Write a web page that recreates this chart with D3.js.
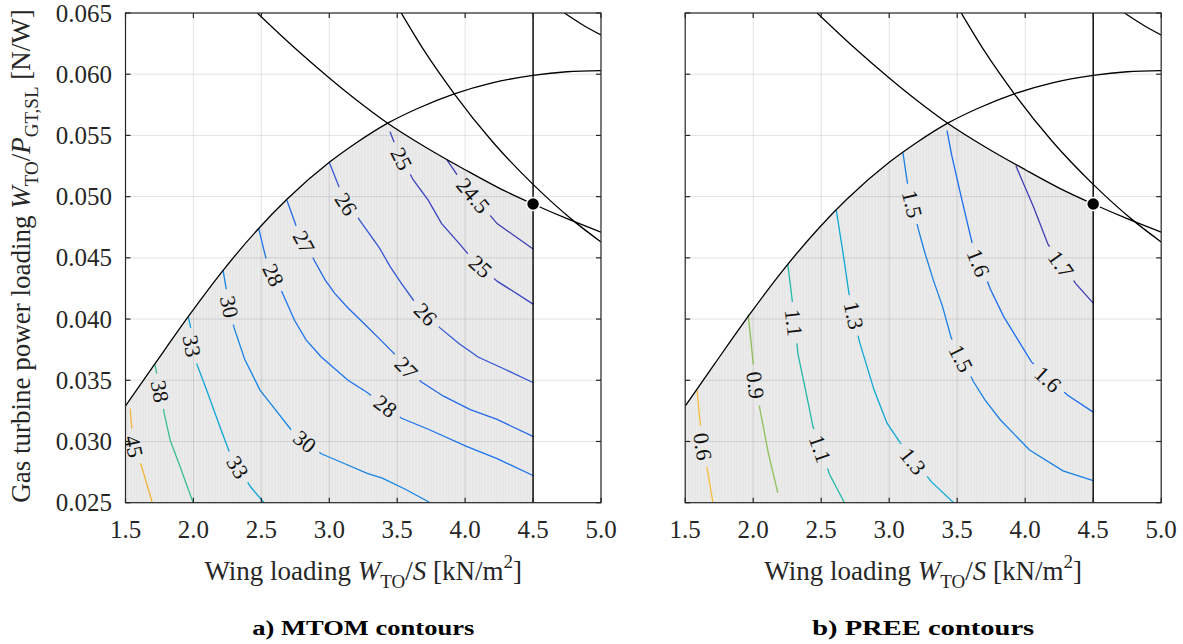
<!DOCTYPE html>
<html><head><meta charset="utf-8">
<script src="https://cdn.jsdelivr.net/npm/d3@7"></script>
<style>body{margin:0;background:#fff} svg{display:block}</style>
</head><body><svg id="c" width="1183" height="644" font-family="'Liberation Serif','Times New Roman',Times,serif"></svg>
<script>
// ---------- data ----------
const xTicks = [1.5, 2.0, 2.5, 3.0, 3.5, 4.0, 4.5, 5.0];
const xTickLabels = ["1.5","2.0","2.5","3.0","3.5","4.0","4.5","5.0"];
const yTicks = [0.025, 0.030, 0.035, 0.040, 0.045, 0.050, 0.055, 0.060, 0.065];
const yTickLabels = ["0.025","0.030","0.035","0.040","0.045","0.050","0.055","0.060","0.065"];

// constraint curves (wing loading kN/m2, power loading N/W)
const climbCurve = [[1.5,0.0329],[1.72,0.0364],[1.975,0.0404],[2.22,0.0440],[2.48,0.0474],[2.69,0.0498],[3.0,0.0528],[3.2,0.0544],[3.43,0.0560],[3.65,0.0572],[3.92,0.0584],[4.2,0.0593],[4.5,0.0599],[4.75,0.0602],[5.0,0.0603]];
const descendA = [[2.47,0.0650],[2.75,0.0621],[3.0,0.0597],[3.2,0.0579],[3.43,0.0560],[3.7,0.0541],[4.0,0.0522],[4.25,0.0507],[4.5,0.0494],[4.75,0.0482],[5.0,0.0471]];
const descendB = [[3.53,0.0650],[3.7,0.0619],[3.92,0.0584],[4.2,0.0545],[4.5,0.0510],[4.8,0.0480],[5.0,0.0463]];
const descendC = [[4.73,0.065],[4.87,0.0640],[5.0,0.0632]];
const designLimit = 4.5;
const designPoint = [4.5, 0.0494];

// MTOM contours
const mtomLevels = [24.5, 25, 26, 27, 28, 30, 33, 38, 45];
const mtom_24_5 = [[3.866,0.0530],[3.94,0.0518],[4.052,0.0502],[4.235,0.0478],[4.503,0.0457]];
const mtom_25 = [[3.447,0.0553],[3.49,0.0541],[3.616,0.0514],[3.729,0.0497],[3.827,0.0478],[3.954,0.0462],[4.038,0.0451],[4.235,0.0431],[4.503,0.0412]];
const mtom_26 = [[3.0,0.0528],[3.082,0.0505],[3.222,0.0481],[3.37,0.0458],[3.447,0.0443],[3.532,0.0429],[3.616,0.0416],[3.813,0.0393],[3.954,0.0380],[4.095,0.0369],[4.292,0.0359],[4.503,0.0348]];
const mtom_27 = [[2.688,0.0497],[2.766,0.0473],[2.899,0.0446],[2.969,0.0432],[3.04,0.0421],[3.138,0.0409],[3.25,0.0397],[3.377,0.0383],[3.476,0.0372],[3.673,0.0349],[3.841,0.0337],[4.038,0.0326],[4.235,0.0318],[4.503,0.0304]];
const mtom_28 = [[2.48,0.0474],[2.533,0.0450],[2.66,0.0420],[2.744,0.0399],[2.829,0.0383],[2.941,0.0369],[3.138,0.0350],[3.279,0.0340],[3.532,0.0319],[3.729,0.0310],[4.01,0.0296],[4.235,0.0286],[4.503,0.0272]];
const mtom_30 = [[2.218,0.0440],[2.238,0.0427],[2.299,0.0393],[2.378,0.0367],[2.49,0.0342],[2.603,0.0326],[2.716,0.0310],[2.941,0.0290],[3.11,0.0282],[3.279,0.0274],[3.39,0.0270],[3.56,0.0261],[3.743,0.0250]];
const mtom_33 = [[1.962,0.0402],[1.976,0.0395],[2.026,0.0363],[2.097,0.0342],[2.195,0.0312],[2.266,0.0291],[2.42,0.0263],[2.52,0.0250]];
const mtom_38 = [[1.717,0.0363],[1.739,0.0350],[1.787,0.0322],[1.829,0.0301],[1.90,0.0280],[1.998,0.0250]];
const mtom_45 = [[1.534,0.0327],[1.55,0.0306],[1.575,0.0293],[1.618,0.0280],[1.697,0.0250]];
const mtomLines = [mtom_24_5, mtom_25, mtom_26, mtom_27, mtom_28, mtom_30, mtom_33, mtom_38, mtom_45];
// label positions: [level, x, y]
const mtomLabels = [[45,1.562,0.0296],[38,1.755,0.0341],[33,1.99,0.0378],[33,2.327,0.0279],[30,2.266,0.0410],[30,2.82,0.0300],
  [28,2.589,0.0436],[28,3.414,0.0329],[27,2.814,0.0463],[27,3.568,0.0360],[26,3.124,0.0494],[26,3.71,0.0404],
  [25,3.532,0.0531],[25,4.114,0.0443],[24.5,4.06,0.0501]];

// PREE contours
const preeLevels = [0.6, 0.9, 1.1, 1.3, 1.5, 1.6, 1.7];
const pree_0_6 = [[1.587,0.0342],[1.609,0.0316],[1.635,0.0296],[1.663,0.0277],[1.704,0.0250]];
const pree_0_9 = [[1.963,0.0404],[1.999,0.0365],[2.02,0.0346],[2.05,0.0326],[2.112,0.0290],[2.181,0.0258]];
const pree_1_1 = [[2.254,0.0445],[2.282,0.0420],[2.33,0.0371],[2.385,0.0342],[2.44,0.0312],[2.562,0.0273],[2.671,0.0250]];
const pree_1_3 = [[2.611,0.0489],[2.666,0.0450],[2.704,0.0421],[2.78,0.0382],[2.889,0.0342],[2.984,0.0315],[3.08,0.0299],[3.311,0.0267],[3.474,0.0250]];
const pree_1_5 = [[3.101,0.0536],[3.134,0.0511],[3.215,0.0473],[3.26,0.0455],[3.324,0.0432],[3.393,0.0410],[3.455,0.0385],[3.619,0.0349],[3.704,0.0334],[3.815,0.0318],[4.032,0.0293],[4.278,0.0276],[4.5,0.0268]];
const pree_1_6 = [[3.425,0.0554],[3.461,0.0533],[3.529,0.0500],[3.61,0.0462],[3.746,0.0424],[3.842,0.0402],[4.046,0.0365],[4.31,0.0338],[4.5,0.0324]];
const pree_1_7 = [[3.932,0.0525],[4.06,0.0492],[4.168,0.0461],[4.372,0.0429],[4.5,0.0413]];
const preeLines = [pree_0_6, pree_0_9, pree_1_1, pree_1_3, pree_1_5, pree_1_6, pree_1_7];
const preeLabels = [[0.6,1.63,0.0296],[0.9,2.018,0.0346],[1.1,2.30,0.0397],[1.1,2.494,0.0294],[1.3,2.74,0.0403],[1.3,3.175,0.0284],
  [1.5,3.17,0.0494],[1.5,3.529,0.0368],[1.6,3.657,0.0446],[1.6,4.168,0.0351],[1.7,4.264,0.0445]];

// ---------- styles ----------
const mtomColors = ["#3d3db5","#3e43bf","#3457d6","#2468e8","#1c74ee","#1684e2","#0ea5d6","#3cbf8f","#f3b43a"];
const preeColors = ["#f7bd3b","#8fbe5a","#22b8a6","#0ea9d4","#1a80e4","#1b6ef0","#3e3fb5"];

const W = 1183, H = 644;
const svg = d3.select('#c');
svg.append('rect').attr('width', W).attr('height', H).attr('fill', '#fff');
const defs = svg.append('defs');
const pat = defs.append('pattern').attr('id','stripe').attr('patternUnits','userSpaceOnUse').attr('width',3).attr('height',10);
pat.append('rect').attr('width',3).attr('height',10).attr('fill','#e7e7e7');
pat.append('rect').attr('width',1).attr('height',10).attr('fill','#ececec');

const panels = [
  {x0:125.5, x1:601, lines:mtomLines, levels:mtomLevels, colors:mtomColors, labels:mtomLabels, title:"a) MTOM contours", yLabels:true},
  {x0:685.2, x1:1161.2, lines:preeLines, levels:preeLevels, colors:preeColors, labels:preeLabels, title:"b) PREE contours", yLabels:false}
];
const yTop = 13, yBot = 502.7;
const TICK_FS = 25, TITLE_FS = 27, SUB_FS = 19, LAB_FS = 22;

panels.forEach((p, i) => {
  const x = d3.scaleLinear().domain([1.5, 5.0]).range([p.x0, p.x1]);
  const y = d3.scaleLinear().domain([0.025, 0.065]).range([yBot, yTop]);
  const line = d3.line().x(d => x(d[0])).y(d => y(d[1]));
  const smooth = d3.line().x(d => x(d[0])).y(d => y(d[1])).curve(d3.curveMonotoneX);

  defs.append('clipPath').attr('id', 'clip' + i).append('rect')
    .attr('x', p.x0).attr('y', yTop).attr('width', p.x1 - p.x0).attr('height', yBot - yTop);
  // feasible region clips: below climb curve, below descending curve A
  const lo = y(0.02), hi = y(0.07);
  defs.append('clipPath').attr('id', 'below1_' + i).append('path')
    .attr('d', smooth(climbCurve) + `L${x(5.0)},${lo}L${x(1.5)},${lo}Z`);
  const a0 = descendA[0];
  defs.append('clipPath').attr('id', 'below2_' + i).append('path')
    .attr('d', smooth(descendA) + `L${x(5.0)},${lo}L${x(1.5)},${lo}L${x(1.5)},${hi}L${x(a0[0])},${hi}Z`);

  const g = svg.append('g').attr('clip-path', `url(#clip${i})`);
  g.append('g').attr('clip-path', `url(#below1_${i})`)
    .append('g').attr('clip-path', `url(#below2_${i})`)
    .append('rect').attr('x', x(1.5)).attr('width', x(designLimit) - x(1.5))
    .attr('y', y(0.065)).attr('height', y(0.025) - y(0.065)).attr('fill', 'url(#stripe)');

  // grid
  g.selectAll('.gx').data(xTicks).enter().append('line')
    .attr('x1', d => x(d)).attr('x2', d => x(d)).attr('y1', yTop).attr('y2', yBot)
    .attr('stroke', '#000').attr('stroke-opacity', 0.11).attr('stroke-width', 1);
  g.selectAll('.gy').data(yTicks).enter().append('line')
    .attr('y1', d => y(d)).attr('y2', d => y(d)).attr('x1', p.x0).attr('x2', p.x1)
    .attr('stroke', '#000').attr('stroke-opacity', 0.11).attr('stroke-width', 1);

  // labels (measure first)
  const lg = svg.append('g');
  const labInfo = p.labels.map(l => {
    const li = p.levels.indexOf(l[0]);
    const pts = p.lines[li].map(d => [x(d[0]), y(d[1])]);
    const px = x(l[1]), py = y(l[2]);
    let best = 1e9, ang = 0;
    for (let k = 0; k < pts.length - 1; k++) {
      const [ax, ay] = pts[k], [bx, by] = pts[k + 1];
      const dx = bx - ax, dy = by - ay;
      let t = ((px - ax) * dx + (py - ay) * dy) / (dx * dx + dy * dy);
      t = Math.max(0, Math.min(1, t));
      const cx = ax + t * dx, cy = ay + t * dy;
      const dist = Math.hypot(px - cx, py - cy);
      if (dist < best) { best = dist; ang = Math.atan2(dy, dx) * 180 / Math.PI; }
    }
    if (ang > 90) ang -= 180;
    if (ang < -90) ang += 180;
    return {text: String(l[0]), px, py, ang};
  });
  const texts = lg.selectAll('text').data(labInfo).enter().append('text')
    .attr('transform', d => `translate(${d.px},${d.py}) rotate(${d.ang})`)
    .attr('text-anchor', 'middle').attr('dy', '0.35em')
    .attr('font-size', LAB_FS).attr('fill', '#111').text(d => d.text);
  texts.each(function(d) { d.w = this.getComputedTextLength(); });

  // mask for gaps in contour lines
  const mask = defs.append('mask').attr('id', 'mask' + i).attr('maskUnits', 'userSpaceOnUse')
    .attr('x', 0).attr('y', 0).attr('width', W).attr('height', H);
  mask.append('rect').attr('width', W).attr('height', H).attr('fill', '#fff');
  mask.selectAll('.m').data(labInfo).enter().append('rect')
    .attr('transform', d => `translate(${d.px},${d.py}) rotate(${d.ang})`)
    .attr('x', d => -d.w / 2 - 7).attr('y', -9).attr('width', d => d.w + 14).attr('height', 18)
    .attr('fill', '#000');

  const cg = g.append('g').attr('mask', `url(#mask${i})`);
  p.lines.forEach((ln, k) => {
    cg.append('path').attr('d', line(ln)).attr('fill', 'none')
      .attr('stroke', p.colors[k]).attr('stroke-width', 1.3);
  });
  lg.raise();

  // constraints
  const kg = svg.append('g').attr('clip-path', `url(#clip${i})`);
  [climbCurve, descendA, descendB, descendC].forEach(c => {
    kg.append('path').attr('d', smooth(c)).attr('fill', 'none').attr('stroke', '#000').attr('stroke-width', 1.3);
  });
  kg.append('line').attr('x1', x(designLimit)).attr('x2', x(designLimit)).attr('y1', yTop).attr('y2', yBot)
    .attr('stroke', '#000').attr('stroke-width', 1.4);
  svg.append('circle').attr('cx', x(designPoint[0])).attr('cy', y(designPoint[1])).attr('r', 6.5)
    .attr('fill', '#000').attr('stroke', '#fff').attr('stroke-width', 1.5);

  // axes box and ticks
  const ag = svg.append('g');
  ag.append('rect').attr('x', p.x0).attr('y', yTop).attr('width', p.x1 - p.x0).attr('height', yBot - yTop)
    .attr('fill', 'none').attr('stroke', '#262626').attr('stroke-width', 1.2);
  const tl = 5;
  xTicks.forEach(t => {
    ag.append('line').attr('x1', x(t)).attr('x2', x(t)).attr('y1', yBot).attr('y2', yBot - tl).attr('stroke', '#262626').attr('stroke-width', 1.2);
    ag.append('line').attr('x1', x(t)).attr('x2', x(t)).attr('y1', yTop).attr('y2', yTop + tl).attr('stroke', '#262626').attr('stroke-width', 1.2);
  });
  yTicks.forEach(t => {
    ag.append('line').attr('x1', p.x0).attr('x2', p.x0 + tl).attr('y1', y(t)).attr('y2', y(t)).attr('stroke', '#262626').attr('stroke-width', 1.2);
    ag.append('line').attr('x1', p.x1).attr('x2', p.x1 - tl).attr('y1', y(t)).attr('y2', y(t)).attr('stroke', '#262626').attr('stroke-width', 1.2);
  });
  ag.selectAll('.xl').data(xTicks).enter().append('text')
    .attr('x', d => x(d)).attr('y', 538).attr('text-anchor', 'middle')
    .attr('font-size', TICK_FS).attr('fill', '#262626').text((d, k) => xTickLabels[k]);
  if (p.yLabels) {
    ag.selectAll('.yl').data(yTicks).enter().append('text')
      .attr('x', p.x0 - 13.5).attr('y', d => y(d)).attr('dy', '0.34em').attr('text-anchor', 'end')
      .attr('font-size', TICK_FS).attr('fill', '#262626').text((d, k) => yTickLabels[k]);
  }

  // x axis title
  const cx = (p.x0 + p.x1) / 2;
  const xt = svg.append('text').attr('x', cx).attr('y', 580).attr('text-anchor', 'middle')
    .attr('font-size', TITLE_FS).attr('fill', '#262626');
  xt.append('tspan').text('Wing loading ');
  xt.append('tspan').attr('font-style', 'italic').text('W');
  xt.append('tspan').attr('font-size', SUB_FS).attr('dy', 8).text('TO');
  xt.append('tspan').attr('dy', -8).text('/');
  xt.append('tspan').attr('font-style', 'italic').text('S');
  xt.append('tspan').text(' [kN/m');
  xt.append('tspan').attr('font-size', SUB_FS).attr('dy', -12).text('2');
  xt.append('tspan').attr('dy', 12).text(']');

  // panel title (reference glyphs are wide: fit to measured width)
  svg.append('text').attr('x', cx).attr('y', 635).attr('text-anchor', 'middle')
    .attr('font-size', 20).attr('font-weight', 'bold').attr('fill', '#000')
    .attr('textLength', 222).attr('lengthAdjust', 'spacingAndGlyphs').text(p.title);
});

// y axis title
const yt = svg.append('text').attr('transform', 'translate(30,256) rotate(-90)').attr('text-anchor', 'middle')
  .attr('font-size', TITLE_FS).attr('fill', '#262626');
yt.append('tspan').text('Gas turbine power loading ');
yt.append('tspan').attr('font-style', 'italic').text('W');
yt.append('tspan').attr('font-size', SUB_FS).attr('dy', 8).text('TO');
yt.append('tspan').attr('dy', -8).text('/');
yt.append('tspan').attr('font-style', 'italic').text('P');
yt.append('tspan').attr('font-size', SUB_FS).attr('dy', 8).text('GT,SL');
yt.append('tspan').attr('dy', -8).text(' [N/W]');
</script></body></html>
